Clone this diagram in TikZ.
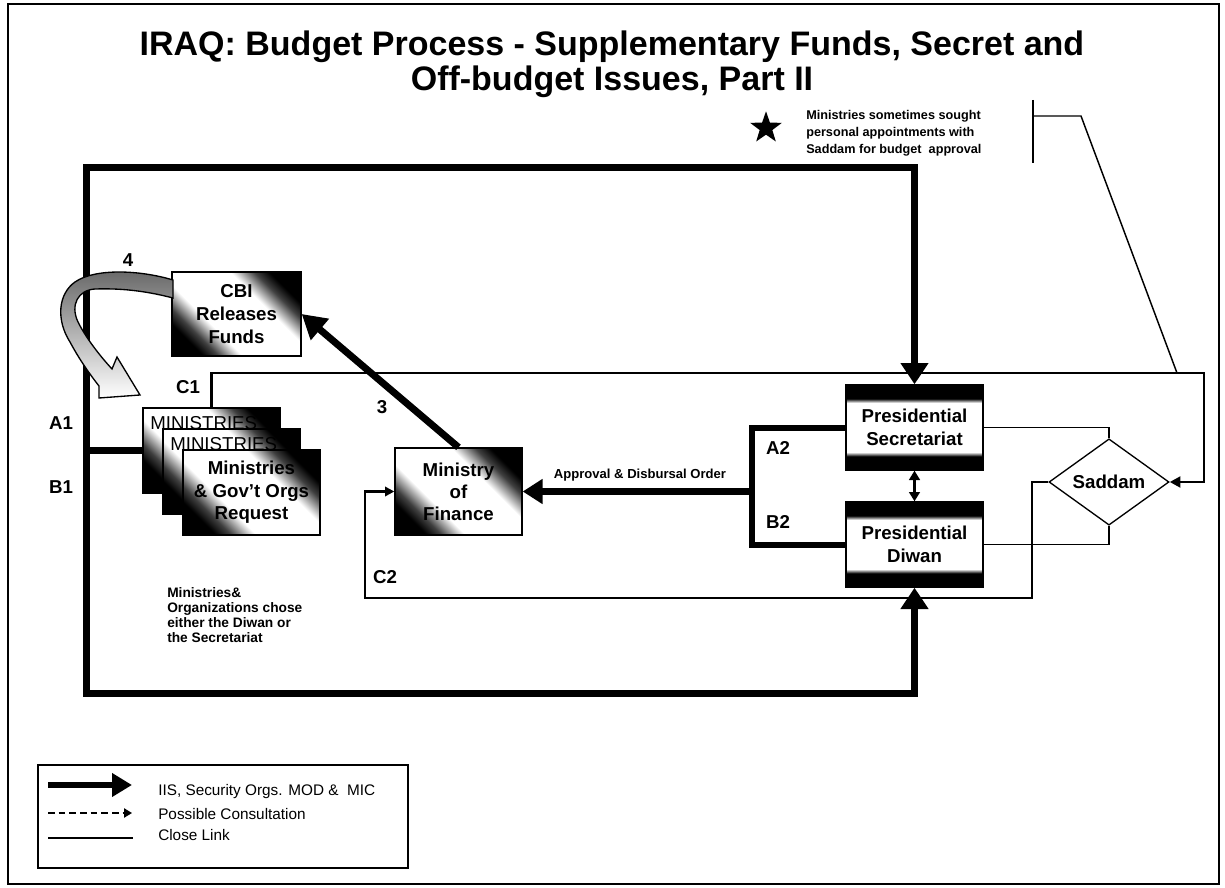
\documentclass[tikz,border=0pt]{standalone}
\usepackage{fontspec}
\setmainfont{Liberation Sans}
\usetikzlibrary{arrows.meta,shapes.geometric,calc}
\pgfdeclareverticalshading{cornerfade}{100bp}{color(0bp)=(black); color(25bp)=(black); color(30bp)=(black!75); color(38bp)=(white); color(62bp)=(white); color(70bp)=(black!75); color(75bp)=(black); color(100bp)=(black)}
\pgfdeclareverticalshading{bandfade}{100bp}{color(0bp)=(black); color(33bp)=(black); color(35.5bp)=(white); color(64.5bp)=(white); color(67bp)=(black); color(100bp)=(black)}
\tikzset{
  boxfont/.style={font=\bfseries\fontsize{14}{17}\selectfont},
  gradbox/.style={draw=black, line width=1pt, shading=cornerfade, shading angle=-45, boxfont, align=center, inner sep=0pt, minimum width=102.75pt, minimum height=63.75pt},
  presbox/.style={draw=black, line width=1pt, shading=bandfade, boxfont, align=center, inner sep=0pt, minimum width=102.75pt, minimum height=63.75pt},
  lbl/.style={font=\bfseries\fontsize{14}{16}\selectfont, inner sep=0pt},
  smalltext/.style={font=\bfseries\fontsize{10.3}{11.4}\selectfont, align=left, inner sep=0pt},
  legtext/.style={anchor=west, font=\fontsize{11.5}{13}\selectfont, inner sep=0pt},
  thk/.style={line width=5.25pt, line join=miter},
  brk/.style={line width=4.5pt, line join=miter},
  med/.style={line width=2.2pt, line join=miter},
  thinl/.style={line width=1.1pt, line join=miter},
}
\begin{document}
\begin{tikzpicture}[x=0.75pt,y=-0.75pt]
\useasboundingbox (0,0) rectangle (1225,888);
\draw[line width=1.1pt] (8,4) rectangle (1219,884);

% title
\node[font=\bfseries\fontsize{25.5}{26.25}\selectfont, align=center, inner sep=0pt] (title) at (612,64.5)
  {IRAQ: Budget Process - Supplementary Funds, Secret and\\Off-budget Issues, Part II};

% callout
\node[star, star points=5, star point ratio=2.5, fill=black, inner sep=0pt, minimum size=25pt] (star) at (766,128) {};
\node[anchor=north west, align=left, inner sep=0pt, font=\bfseries\fontsize{9.5}{12.7}\selectfont] (note) at (806,110)
  {Ministries sometimes sought\\personal appointments with\\Saddam for budget~ approval};
\coordinate (cb1) at (1033,100);
\coordinate (cb2) at (1033,163);
\coordinate (cbm) at (1033,116);
\coordinate (cbk) at (1081,116);
\coordinate (cbe) at (1177,373);
\draw[thinl] (cb1) -- (cb2);
\draw[thinl] (cbm) -- (cbk) -- (cbe);

% boxes
\node[gradbox, minimum width=96.75pt, minimum height=63pt] (cbi) at (236.5,314) {CBI\\Releases\\Funds};
\node[gradbox] (m1) at (211.5,450.5) {};
\node[anchor=west, font=\fontsize{14}{16}\selectfont, inner sep=0pt] (m1t) at (150,423) {MINISTRIES};
\node[gradbox] (m2) at (231.5,471.5) {};
\node[anchor=west, font=\fontsize{14}{16}\selectfont, inner sep=0pt] (m2t) at (170,444) {MINISTRIES};
\node[gradbox] (m3) at (251.5,492.5) {Ministries\\\& Gov't Orgs\\Request};
\node[gradbox, minimum width=95.25pt, minimum height=65.25pt, font=\bfseries\fontsize{14}{16.5}\selectfont] (mof) at (458.5,491.5) {Ministry\\of\\Finance};
\node[presbox] (sec) at (914.5,427.5) {Presidential\\Secretariat};
\node[presbox] (diw) at (914.5,544.5) {Presidential\\Diwan};
\node[diamond, draw=black, line width=1pt, minimum width=90pt, minimum height=64.5pt, inner sep=0pt, boxfont] (sad) at (1109,482) {Saddam};

% big thick loop
\coordinate (lt) at (86,168);
\coordinate (lb) at (86,693);
\draw[thk, {Triangle[length=16pt,width=20pt]}-{Triangle[length=16pt,width=20pt]}]
  (sec.north) -- (lt -| sec.north) -- (lt) -- (lb) -- (lb -| diw.south) -- (diw.south);
\draw[thk] (lt |- m1.west) -- (m1.west);

% bracket A2/B2 and approval
\coordinate (bk) at (752,492);
\draw[brk] (sec.west) -- (sec.west -| bk) -- (diw.west -| bk) -- (diw.west);
\draw[thk, -{Triangle[length=15pt,width=18pt]}] (bk |- mof.east) -- (mof.east);

% arrow 3
\draw[thk, -{Triangle[length=18pt,width=20pt]}] (mof.north) -- (cbi.east);

% C1
\coordinate (c1r) at (1204,373);
\draw[med, -{Triangle[length=8pt,width=8pt]}] (m1.north) -- (m1.north |- c1r) -- (c1r) -- (c1r |- sad.east) -- (sad.east);

% C2
\coordinate (c2l) at (365,598);
\coordinate (c2r) at (1032,598);
\draw[med, -{Triangle[length=7pt,width=7pt]}] (sad.west) -- (sad.west -| c2r) -- (c2r) -- (c2l) -- (c2l |- mof.west) -- (mof.west);

% between presidential offices
\draw[med, {Triangle[length=7pt,width=8pt]}-{Triangle[length=7pt,width=8pt]}] (sec.south) -- (diw.north);

% close links to Saddam
\draw[thinl] (sec.east) -- (sec.east -| sad.north) -- (sad.north);
\draw[thinl] (diw.east) -- (diw.east -| sad.south) -- (sad.south);

% curved hollow arrow 4
\draw[line width=1pt, line join=miter, top color=black!60, bottom color=white]
  (173,280) .. controls (140,270) and (95,268) .. (75,282)
  .. controls (58,294) and (56,320) .. (70,342)
  .. controls (78,357) and (88,372) .. (99,386)
  -- (99,398) -- (140,395) -- (117,357) -- (112,369)
  .. controls (100,356) and (86,338) .. (78,322)
  .. controls (70,305) and (78,290) .. (95,289)
  .. controls (125,288) and (150,292) .. (173,298) -- cycle;

% labels
\node[lbl] (l4) at (128,260) {4};
\node[lbl] (l3) at (382,407) {3};
\node[lbl] (lc1) at (188,387) {C1};
\node[lbl] (lc2) at (385,577) {C2};
\node[lbl] (la1) at (61,423) {A1};
\node[lbl] (lb1) at (61,487) {B1};
\node[lbl] (la2) at (778,448) {A2};
\node[lbl] (lb2) at (778,522) {B2};
\node[smalltext, font=\bfseries\fontsize{9.8}{11}\selectfont] (appr) at (640,475) {Approval \& Disbursal Order};
\node[smalltext, anchor=north west] (choose) at (167,587)
  {Ministries\&\\Organizations chose\\either the Diwan or\\the Secretariat};

% legend
\node[draw=black, line width=1pt, minimum width=277.5pt, minimum height=77.25pt, inner sep=0pt] (leg) at (223,816.5) {};
\coordinate (g1a) at (48,785);
\coordinate (g1b) at (132,785);
\coordinate (g2a) at (48,813);
\coordinate (g2b) at (132,813);
\coordinate (g3a) at (48,838);
\coordinate (g3b) at (133,838);
\draw[line width=4.5pt, -{Triangle[length=15pt,width=17pt]}] (g1a) -- (g1b);
\draw[thinl, dash pattern=on 5pt off 3pt, -{Triangle[length=6pt,width=7pt]}] (g2a) -- (g2b);
\draw[thinl] (g3a) -- (g3b);
\node[legtext] (t1) at (158,792) {IIS, Security Orgs. MOD \&~ MIC};
\node[legtext] (t2) at (158,814) {Possible Consultation};
\node[legtext] (t3) at (158,835) {Close Link};
\end{tikzpicture}
\end{document}
